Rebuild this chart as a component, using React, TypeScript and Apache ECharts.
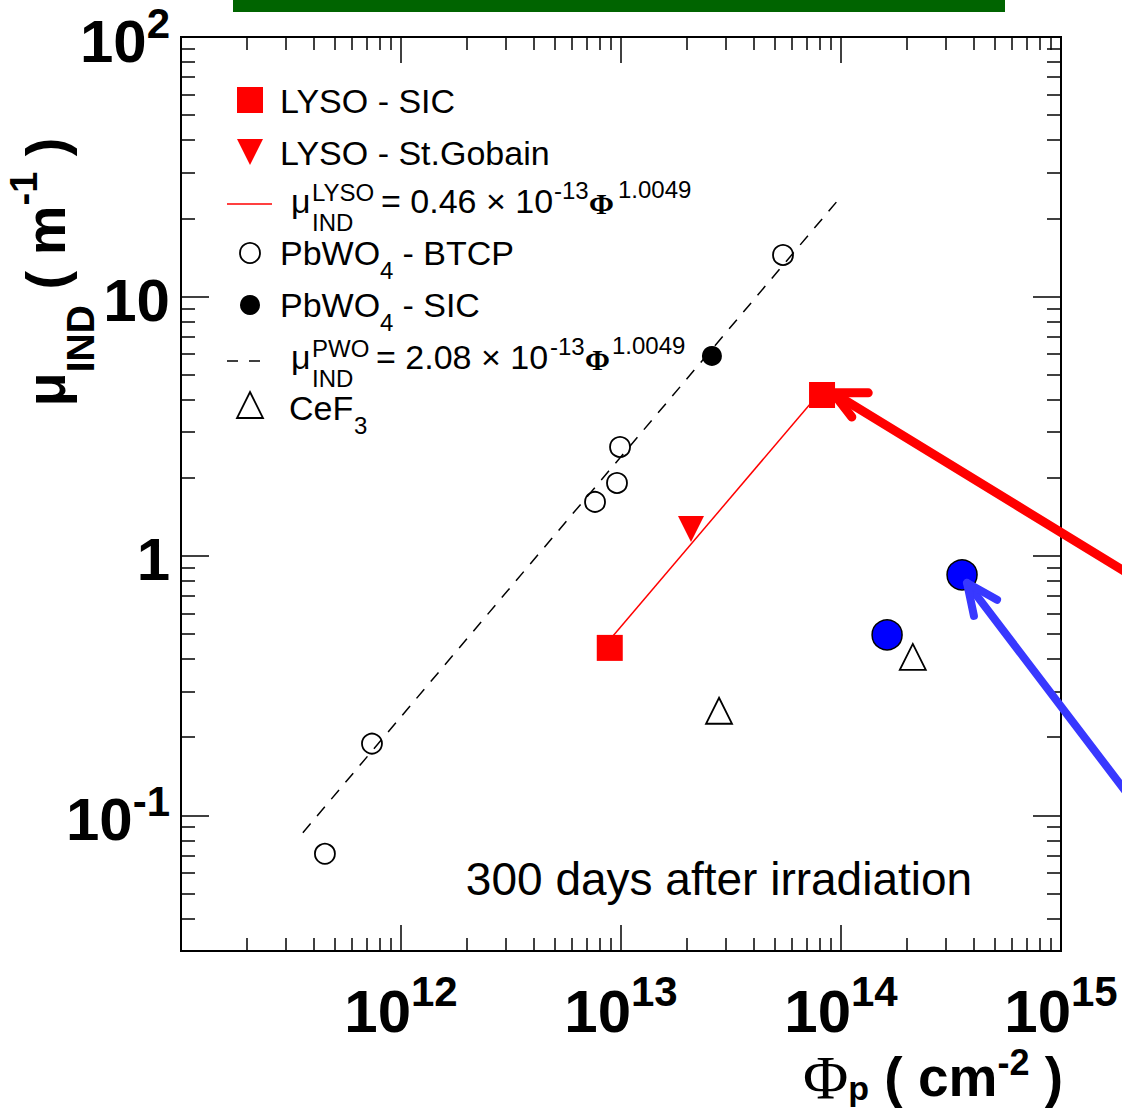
import React, { useEffect, useRef } from 'react';
import * as echarts from 'echarts';

const FONT = "'Liberation Sans', Arial, Helvetica, sans-serif";
const SERIF = "'Liberation Serif', 'Times New Roman', serif";

// Axis ranges and tick values
const xRange = [1e11, 1e15];
const yRange = [0.03, 100];
const xMajorTicks = [1e12, 1e13, 1e14];
const xLabelValues = [1e12, 1e13, 1e14, 0.99999e15];
const yMajorTicks = [0.1, 1, 10];
const yLabelValues = [0.1, 1, 10, 0.99999e2];

// Data (Phi_p [cm^-2], mu_IND [m^-1])
const lysoSic = [[8.89e12, 0.442], [8.2e13, 4.17]];
const lysoStGobain = [[2.08e13, 1.27]];
const pwoBtcp = [
  [4.51e11, 0.0711], [7.38e11, 0.189], [7.62e12, 1.615],
  [9.59e12, 1.91], [9.9e12, 2.63], [5.45e13, 14.45],
];
const pwoSic = [[2.59e13, 5.9]];
const cef3 = [[2.79e13, 0.253], [2.12e14, 0.408]];
const highlighted = [[1.62e14, 0.496], [3.55e14, 0.845]];
const lysoFit = [[8.89e12, 0.475], [8.2e13, 4.36]];
const pwoFit = [[3.58e11, 0.0857], [9.69e13, 23.5]];
const redArrowShaft = [[2.29e15, 0.801], [9.2e13, 4.25]];
const redArrowHead = [[1.33e14, 4.25], [9.2e13, 4.25], [1.12e14, 3.43]];
const blueArrowShaft = [[2.29e15, 0.1044], [3.74e14, 0.787]];
const blueArrowHead = [[5.12e14, 0.677], [3.74e14, 0.787], [4.02e14, 0.587]];

function minorTicks(lo: number, hi: number): number[] {
  const out: number[] = [];
  const e0 = Math.floor(Math.log10(lo));
  const e1 = Math.ceil(Math.log10(hi));
  for (let e = e0; e <= e1; e++) {
    for (let m = 2; m <= 9; m++) {
      const v = m * Math.pow(10, e);
      if (v > lo * 1.001 && v < hi * 0.999) out.push(v);
    }
  }
  return out;
}

const xMinorTicks = minorTicks(xRange[0], xRange[1]);
const yMinorTicks = minorTicks(yRange[0], yRange[1]);

const tickLine = { color: '#000', width: 1.5 };

function hiddenBase(extra: any) {
  return {
    type: 'log',
    logBase: 10,
    axisLine: { show: false },
    splitLine: { show: false },
    minorTick: { show: false },
    minorSplitLine: { show: false },
    axisPointer: { show: false },
    ...extra,
  };
}

export default function App() {
  const ref = useRef<HTMLDivElement>(null);

  useEffect(() => {
    document.body.style.margin = '0';
    if (!ref.current) return;
    const chart = echarts.init(ref.current, null, { renderer: 'svg' });

    const xAxisCommon = { min: xRange[0], max: xRange[1] };
    const yAxisCommon = { min: yRange[0], max: yRange[1] };

    const labelRichX = {
      b: { fontSize: 60, fontWeight: 'bold', fontFamily: FONT, color: '#000', lineHeight: 71, verticalAlign: 'bottom' },
      s: { fontSize: 42, fontWeight: 'bold', fontFamily: FONT, color: '#000', lineHeight: 42, verticalAlign: 'top' },
    };
    const labelRichY = {
      b: { fontSize: 60, fontWeight: 'bold', fontFamily: FONT, color: '#000', lineHeight: 64, verticalAlign: 'middle' },
      s: { fontSize: 42, fontWeight: 'bold', fontFamily: FONT, color: '#000', verticalAlign: 'middle', padding: [0, 0, 36, 0] },
    };

    const txt = (x: number, y: number, text: string, size: number, extra: any = {}) => ({
      type: 'text',
      x,
      y,
      silent: true,
      style: {
        text,
        fontSize: size,
        fontFamily: FONT,
        fill: '#000',
        align: 'left',
        verticalAlign: 'middle',
        textAlign: 'left',
        textVerticalAlign: 'middle',
        ...extra,
      },
    });

    const legend: any[] = [
      // row 1
      { type: 'rect', shape: { x: 237, y: 87, width: 26, height: 26 }, style: { fill: '#ff0000' } },
      txt(280, 101, 'LYSO - SIC', 34),
      // row 2
      { type: 'polygon', shape: { points: [[237, 139], [263, 139], [250, 165]] }, style: { fill: '#ff0000' } },
      txt(280, 153, 'LYSO - St.Gobain', 34),
      // row 3
      { type: 'line', shape: { x1: 227, y1: 204, x2: 272, y2: 204 }, style: { stroke: '#ff0000', lineWidth: 1.5 } },
      txt(291, 201, 'μ', 34),
      txt(312, 192, 'LYSO', 24),
      txt(312, 222, 'IND', 24),
      txt(381, 201, '= 0.46 × 10', 34),
      txt(554, 190, '-13', 24),
      txt(589, 203, 'Φ', 30, { fontFamily: SERIF, fontWeight: 'bold' }),
      txt(618, 189, '1.0049', 24),
      // row 4
      { type: 'circle', shape: { cx: 250, cy: 253, r: 10 }, style: { fill: 'none', stroke: '#000', lineWidth: 1.8 } },
      txt(280, 253, 'PbWO', 34),
      txt(380, 270, '4', 24),
      txt(393, 253, ' - BTCP', 34),
      // row 5
      { type: 'circle', shape: { cx: 250, cy: 305, r: 10 }, style: { fill: '#000' } },
      txt(280, 305, 'PbWO', 34),
      txt(380, 322, '4', 24),
      txt(393, 305, ' - SIC', 34),
      // row 6
      { type: 'line', shape: { x1: 227, y1: 361, x2: 262, y2: 361 }, style: { stroke: '#000', lineWidth: 1.5, lineDash: [11, 11] } },
      txt(291, 357, 'μ', 34),
      txt(312, 348, 'PWO', 24),
      txt(312, 378, 'IND', 24),
      txt(376, 357, '= 2.08 × 10', 34),
      txt(550, 346, '-13', 24),
      txt(585, 359, 'Φ', 30, { fontFamily: SERIF, fontWeight: 'bold' }),
      txt(612, 345, '1.0049', 24),
      // row 7
      { type: 'polygon', shape: { points: [[250, 392], [263, 418], [237, 418]] }, style: { fill: 'none', stroke: '#000', lineWidth: 1.8 } },
      txt(289, 408, 'CeF', 34),
      txt(354, 425, '3', 24),
    ];

    const graphics: any[] = [
      { type: 'rect', shape: { x: 233, y: 0, width: 772, height: 12 }, style: { fill: '#006400' }, silent: true },
      ...legend,
      txt(719, 879, '300 days after irradiation', 46, { align: 'center', textAlign: 'center' }),
      {
        type: 'text',
        x: 45,
        y: 272,
        rotation: Math.PI / 2,
        silent: true,
        style: {
          text: '{mu|μ}{sub|IND}{b| ( m}{sup|-1}{b| )}',
          align: 'center',
          verticalAlign: 'middle',
          textAlign: 'center',
          textVerticalAlign: 'middle',
          fill: '#000',
          rich: {
            mu: { fontSize: 56, fontWeight: 'bold', fontFamily: FONT, fill: '#000', lineHeight: 56, verticalAlign: 'middle' },
            b: { fontSize: 56, fontWeight: 'bold', fontFamily: FONT, fill: '#000', lineHeight: 56, verticalAlign: 'middle' },
            sub: { fontSize: 39, fontWeight: 'bold', fontFamily: FONT, fill: '#000', verticalAlign: 'middle', padding: [70, 0, 0, 0] },
            sup: { fontSize: 38, fontWeight: 'bold', fontFamily: FONT, fill: '#000', verticalAlign: 'middle', padding: [0, 0, 42, 0] },
          },
        },
      },
      {
        type: 'text',
        x: 1063,
        y: 1077,
        silent: true,
        style: {
          text: '{phi|Φ}{sub|p}{b| ( cm}{sup|-2}{b| )}',
          align: 'right',
          verticalAlign: 'middle',
          textAlign: 'right',
          textVerticalAlign: 'middle',
          fill: '#000',
          rich: {
            phi: { fontSize: 62, fontFamily: SERIF, fill: '#000', lineHeight: 56, verticalAlign: 'middle' },
            b: { fontSize: 55, fontWeight: 'bold', fontFamily: FONT, fill: '#000', lineHeight: 56, verticalAlign: 'middle' },
            sub: { fontSize: 34, fontWeight: 'bold', fontFamily: FONT, fill: '#000', verticalAlign: 'middle', padding: [22, 0, 0, 0] },
            sup: { fontSize: 36, fontWeight: 'bold', fontFamily: FONT, fill: '#000', verticalAlign: 'middle', padding: [0, 0, 30, 0] },
          },
        },
      },
    ];

    const option: any = {
      animation: false,
      backgroundColor: '#fff',
      grid: {
        left: 181,
        top: 37,
        right: 61,
        bottom: 161,
        show: true,
        borderColor: '#000',
        borderWidth: 2,
        backgroundColor: 'transparent',
        containLabel: false,
        outerBoundsMode: 'none',
      },
      xAxis: [
        hiddenBase({
          ...xAxisCommon,
          position: 'bottom',
          axisTick: { show: true, inside: true, length: 26, customValues: xMajorTicks, lineStyle: tickLine },
          axisLabel: {
            show: true,
            customValues: xLabelValues,
            margin: 19,
            verticalAlign: 'top',
            formatter: (v: number) => `{b|10}{s|${Math.round(Math.log10(v))}}`,
            rich: labelRichX,
          },
        }),
        hiddenBase({
          ...xAxisCommon,
          position: 'bottom',
          axisTick: { show: true, inside: true, length: 13, customValues: xMinorTicks, lineStyle: tickLine },
          axisLabel: { show: false },
        }),
        hiddenBase({
          ...xAxisCommon,
          position: 'top',
          axisTick: { show: true, inside: true, length: 26, customValues: xMajorTicks, lineStyle: tickLine },
          axisLabel: { show: false },
        }),
        hiddenBase({
          ...xAxisCommon,
          position: 'top',
          axisTick: { show: true, inside: true, length: 13, customValues: xMinorTicks, lineStyle: tickLine },
          axisLabel: { show: false },
        }),
      ],
      yAxis: [
        hiddenBase({
          ...yAxisCommon,
          position: 'left',
          axisTick: { show: true, inside: true, length: 28, customValues: yMajorTicks, lineStyle: tickLine },
          axisLabel: {
            show: true,
            customValues: yLabelValues,
            margin: 11,
            padding: [8, 0, 0, 0],
            formatter: (v: number) => {
              const e = Math.round(Math.log10(v));
              if (e === 0) return '{b|1}';
              if (e === 1) return '{b|10}';
              return `{b|10}{s|${e}}`;
            },
            rich: labelRichY,
          },
        }),
        hiddenBase({
          ...yAxisCommon,
          position: 'left',
          axisTick: { show: true, inside: true, length: 14, customValues: yMinorTicks, lineStyle: tickLine },
          axisLabel: { show: false },
        }),
        hiddenBase({
          ...yAxisCommon,
          position: 'right',
          axisTick: { show: true, inside: true, length: 28, customValues: yMajorTicks, lineStyle: tickLine },
          axisLabel: { show: false },
        }),
        hiddenBase({
          ...yAxisCommon,
          position: 'right',
          axisTick: { show: true, inside: true, length: 14, customValues: yMinorTicks, lineStyle: tickLine },
          axisLabel: { show: false },
        }),
      ],
      series: [
        {
          type: 'line', name: 'PWO fit', data: pwoFit, symbol: 'none', silent: true,
          lineStyle: { color: '#000', width: 1.5, type: [12, 10], opacity: 1 }, z: 2,
        },
        {
          type: 'line', name: 'LYSO fit', data: lysoFit, symbol: 'none', silent: true,
          lineStyle: { color: '#ff0000', width: 1.5, opacity: 1 }, z: 2,
        },
        {
          type: 'scatter', name: 'PbWO4 - BTCP', data: pwoBtcp, symbol: 'circle', symbolSize: 20, silent: true,
          itemStyle: { color: 'rgba(0,0,0,0)', borderColor: '#000', borderWidth: 1.8, opacity: 1 }, z: 3,
        },
        {
          type: 'scatter', name: 'PbWO4 - SIC', data: pwoSic, symbol: 'circle', symbolSize: 20, silent: true,
          itemStyle: { color: '#000', opacity: 1 }, z: 3,
        },
        {
          type: 'scatter', name: 'LYSO - SIC', data: lysoSic, symbol: 'rect', symbolSize: 26, silent: true,
          itemStyle: { color: '#ff0000', opacity: 1 }, z: 3,
        },
        {
          type: 'scatter', name: 'LYSO - St.Gobain', data: lysoStGobain, symbol: 'triangle', symbolRotate: 180,
          symbolSize: 26, silent: true, itemStyle: { color: '#ff0000', opacity: 1 }, z: 3,
        },
        {
          type: 'scatter', name: 'CeF3', data: cef3, symbol: 'triangle', symbolSize: 26, silent: true,
          itemStyle: { color: 'rgba(0,0,0,0)', borderColor: '#000', borderWidth: 1.8, opacity: 1 }, z: 3,
        },
        {
          type: 'scatter', name: 'highlighted', data: highlighted, symbol: 'circle', symbolSize: 30, silent: true,
          itemStyle: { color: '#0000ff', borderColor: '#000', borderWidth: 1.5, opacity: 1 }, z: 3,
        },
      ],
      graphic: graphics,
    };

    chart.setOption(option);

    // Arrows extend past the plot frame: convert their data coordinates to pixels via the chart's axes.
    const toPx = (p: number[]) => chart.convertToPixel({ xAxisIndex: 0, yAxisIndex: 0 }, p) as number[];
    const arrow = (pts: number[][], color: string, w: number) => ({
      type: 'polyline',
      z: 10,
      silent: true,
      shape: { points: pts.map(toPx) },
      style: { stroke: color, lineWidth: w, lineCap: 'round', lineJoin: 'round', fill: 'none' },
    });
    chart.setOption({
      graphic: [
        ...graphics,
        arrow(redArrowShaft, '#ff0000', 9),
        arrow(redArrowHead, '#ff0000', 9),
        arrow(blueArrowShaft, '#3838ff', 8),
        arrow(blueArrowHead, '#3838ff', 8),
      ],
    });

    return () => chart.dispose();
  }, []);

  return <div ref={ref} style={{ width: 1122, height: 1112 }} />;
}
